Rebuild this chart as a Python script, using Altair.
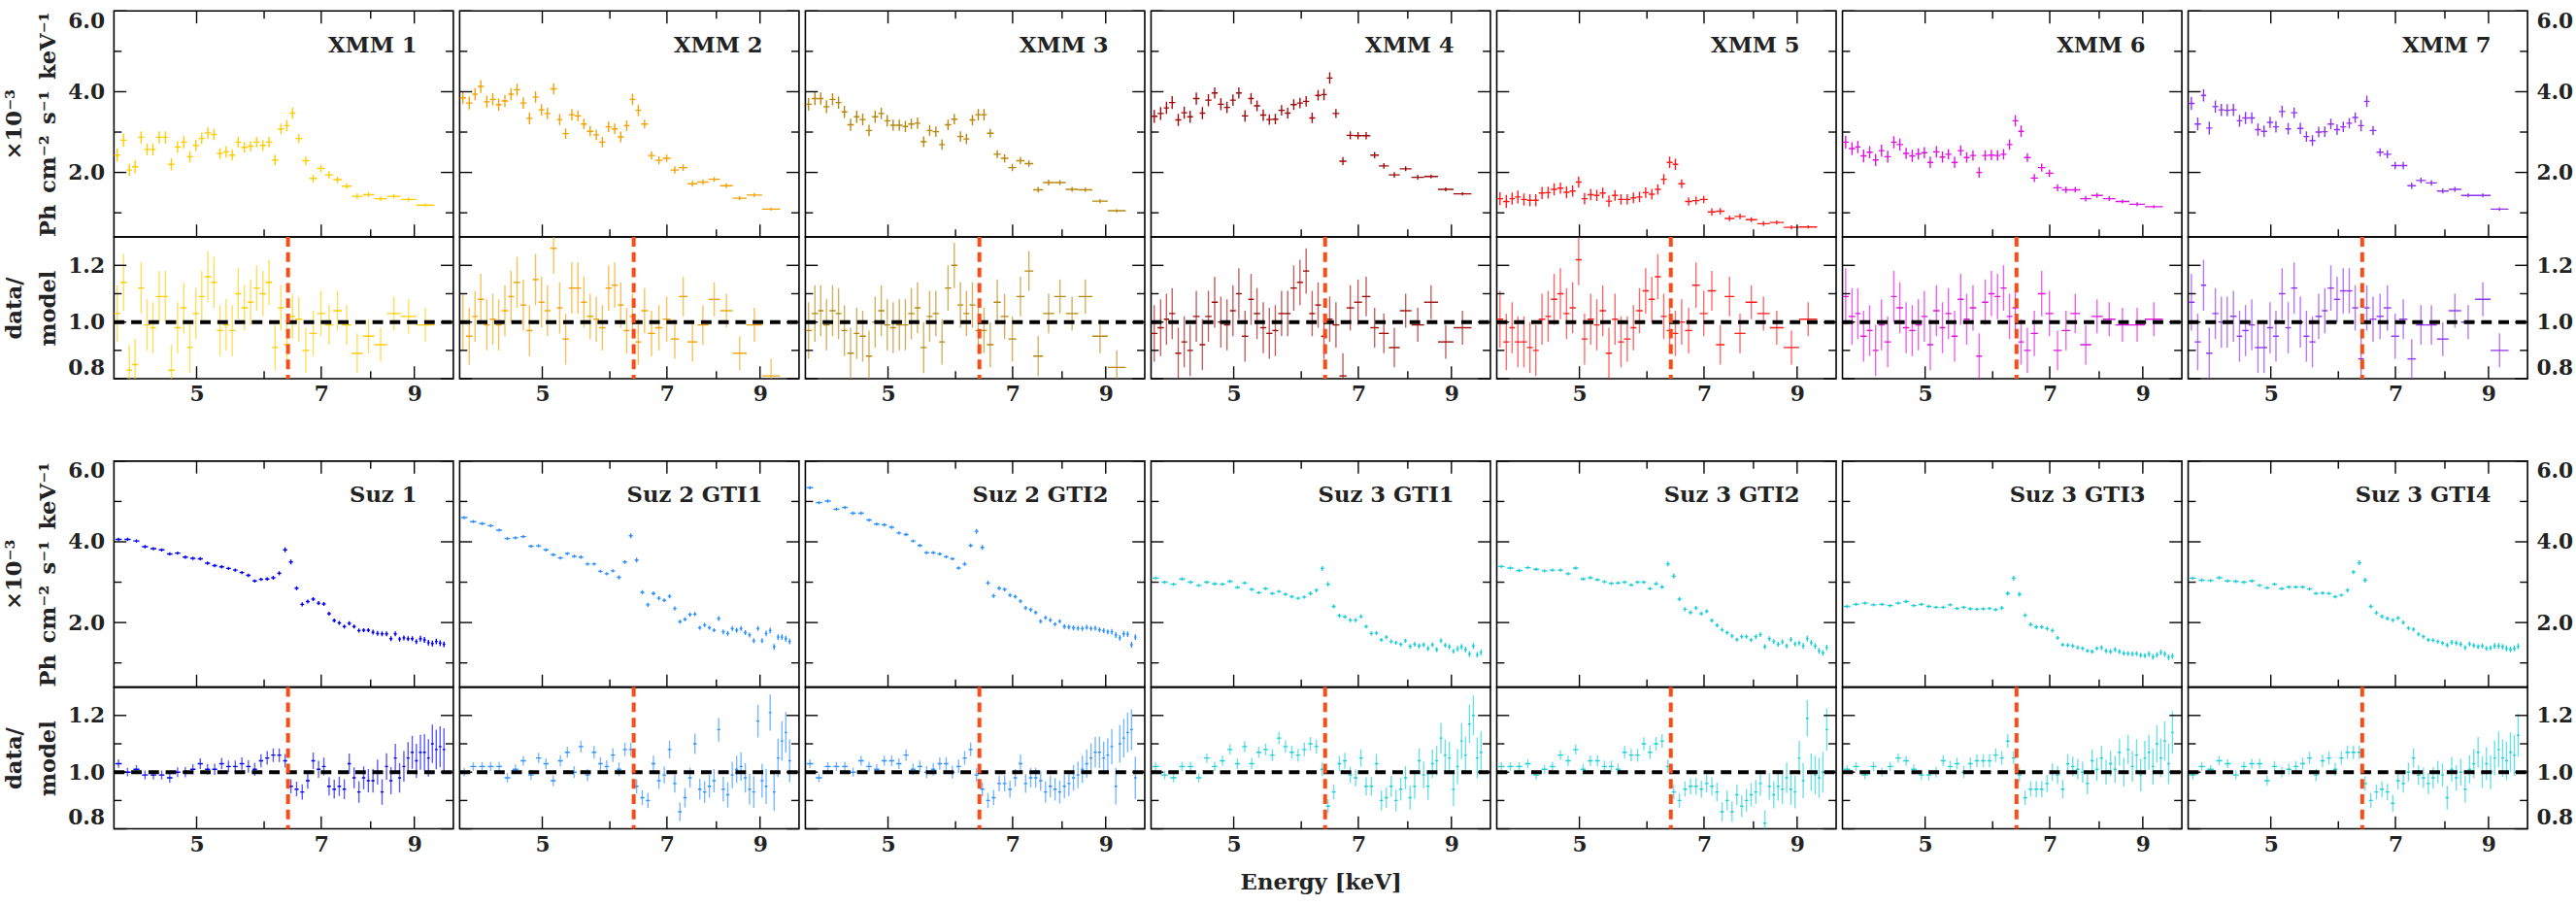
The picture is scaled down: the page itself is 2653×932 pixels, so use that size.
import altair as alt
import pandas as pd

FONT = "DejaVu Serif"
TXT = "#222222"

# ---------------- energy grids ----------------
xmm_lo = [4.00, 4.07, 4.14, 4.20, 4.27, 4.34, 4.41, 4.48, 4.56, 4.63, 4.71, 4.79, 4.87, 4.95,
          5.03, 5.11, 5.20, 5.28, 5.37, 5.46, 5.55, 5.64, 5.74, 5.83, 5.93, 6.03, 6.13, 6.23,
          6.33, 6.43, 6.53, 6.65, 6.78, 6.92, 7.07, 7.23, 7.40, 7.60, 7.83, 8.08, 8.36, 8.68, 9.05]
xmm_last_edge = 9.50
xmm_ferr = [0.16, 0.16, 0.15, 0.16, 0.15, 0.15, 0.15, 0.15, 0.15, 0.15, 0.14, 0.15, 0.14, 0.14,
            0.14, 0.14, 0.14, 0.13, 0.14, 0.13, 0.13, 0.13, 0.13, 0.13, 0.13, 0.13, 0.13, 0.13,
            0.14, 0.14, 0.11, 0.10, 0.10, 0.09, 0.09, 0.08, 0.07, 0.07, 0.06, 0.06, 0.05, 0.05, 0.04]
xmm_rerr = [0.10, 0.10, 0.09, 0.09, 0.09, 0.09, 0.09, 0.09, 0.09, 0.09, 0.09, 0.09, 0.09, 0.09,
            0.09, 0.09, 0.09, 0.09, 0.09, 0.09, 0.09, 0.08, 0.08, 0.08, 0.08, 0.08, 0.08, 0.08,
            0.08, 0.08, 0.08, 0.08, 0.08, 0.08, 0.07, 0.07, 0.07, 0.07, 0.06, 0.06, 0.06, 0.06, 0.06]

suz_e = [4.05, 4.15, 4.25, 4.35, 4.45, 4.55, 4.65, 4.75, 4.85, 4.95, 5.05, 5.15, 5.25, 5.35,
         5.45, 5.55, 5.65, 5.75, 5.85, 5.95, 6.05, 6.15, 6.25, 6.35, 6.45, 6.55, 6.65, 6.75,
         6.85, 6.95, 7.05, 7.15, 7.25, 7.35, 7.45, 7.55, 7.65, 7.75, 7.85, 7.95, 8.05, 8.15,
         8.25, 8.35, 8.45, 8.55, 8.65, 8.75, 8.85, 8.95, 9.05, 9.15, 9.25, 9.35, 9.45, 9.55,
         9.65, 9.75]
suz_halfwidth = 0.035
suz_ferr = [0.04, 0.04, 0.04, 0.04, 0.04, 0.04, 0.04, 0.04, 0.04, 0.04, 0.04, 0.04, 0.04, 0.04,
            0.04, 0.04, 0.04, 0.04, 0.04, 0.04, 0.04, 0.05, 0.05, 0.06, 0.06, 0.05, 0.05, 0.05,
            0.05, 0.05, 0.05, 0.05, 0.05, 0.05, 0.05, 0.05, 0.05, 0.05, 0.05, 0.05, 0.06, 0.06,
            0.06, 0.06, 0.06, 0.06, 0.06, 0.06, 0.06, 0.06, 0.06, 0.07, 0.07, 0.07, 0.07, 0.07,
            0.07, 0.07]
suz_rerr = [0.015, 0.015, 0.015, 0.016, 0.016, 0.016, 0.017, 0.017, 0.018, 0.018, 0.019, 0.019,
            0.020, 0.020, 0.021, 0.021, 0.022, 0.022, 0.023, 0.023, 0.024, 0.024, 0.024, 0.024,
            0.025, 0.026, 0.027, 0.028, 0.029, 0.030, 0.031, 0.032, 0.033, 0.034, 0.035, 0.036,
            0.037, 0.038, 0.040, 0.041, 0.042, 0.044, 0.045, 0.047, 0.048, 0.050, 0.052, 0.054,
            0.056, 0.058, 0.060, 0.062, 0.064, 0.066, 0.068, 0.070, 0.072, 0.075]

# ---------------- XMM spectra (1e-3 ph/cm2/s/keV) and data/model ----------------
xmm1_flux = [2.43, 2.80, 2.06, 2.14, 2.87, 2.57, 2.57, 2.87, 2.87, 2.20, 2.63, 2.75, 2.39, 2.67, 2.84,
             2.98, 2.94, 2.47, 2.51, 2.43, 2.75, 2.62, 2.65, 2.75, 2.67, 2.75, 2.31, 3.08, 3.16, 3.47,
             2.84, 2.29, 1.85, 2.10, 1.94, 1.82, 1.66, 1.41, 1.45, 1.35, 1.41, 1.33, 1.19]
xmm1_ratio = [1.03, 1.14, 0.83, 0.85, 1.12, 0.99, 0.98, 1.09, 1.09, 0.83, 0.98, 1.05, 0.91, 1.03, 1.09,
              1.16, 1.14, 0.97, 0.99, 0.97, 1.10, 1.05, 1.07, 1.12, 1.10, 1.14, 0.91, 1.05, 0.92, 1.02,
              1.01, 0.90, 0.96, 1.03, 0.99, 1.04, 0.99, 0.89, 0.95, 0.92, 1.03, 1.02, 0.99]
xmm2_flux = [3.85, 3.72, 3.94, 4.13, 3.75, 3.81, 3.68, 3.77, 3.94, 4.05, 3.72, 3.34, 3.87, 3.55, 3.46,
             4.07, 3.31, 2.96, 3.43, 3.40, 3.20, 3.02, 2.93, 2.75, 3.13, 3.08, 2.88, 3.16, 3.81, 3.54,
             3.20, 2.42, 2.30, 2.35, 2.06, 2.12, 1.72, 1.76, 1.83, 1.67, 1.36, 1.44, 1.09]
xmm2_ratio = [1.00, 0.95, 1.02, 1.08, 0.99, 1.01, 0.99, 1.04, 1.09, 1.14, 1.06, 0.97, 1.15, 1.07, 1.04,
              1.26, 1.05, 0.94, 1.12, 1.12, 1.07, 1.02, 1.01, 0.98, 1.12, 1.13, 1.06, 0.97, 1.02, 0.93,
              1.04, 0.96, 0.98, 1.01, 0.94, 1.09, 0.93, 0.99, 1.08, 1.04, 0.89, 0.99, 0.81]
xmm3_flux = [3.69, 3.83, 3.83, 3.63, 3.81, 3.73, 3.50, 3.18, 3.38, 3.31, 3.04, 3.38, 3.46, 3.28, 3.17,
             3.17, 3.14, 3.20, 3.22, 2.76, 3.04, 3.01, 2.69, 3.18, 3.32, 2.89, 2.83, 3.30, 3.43, 3.43,
             2.97, 2.45, 2.35, 2.12, 2.29, 2.22, 1.57, 1.75, 1.75, 1.58, 1.57, 1.29, 1.05]
xmm3_ratio = [0.97, 1.03, 1.04, 0.99, 1.04, 1.03, 0.97, 0.89, 0.96, 0.95, 0.88, 1.00, 1.04, 0.99, 0.98,
              0.99, 0.99, 1.03, 1.05, 0.91, 1.02, 1.03, 0.93, 1.12, 1.20, 1.06, 1.03, 1.06, 0.97, 0.97,
              0.92, 1.07, 1.02, 0.94, 1.09, 1.18, 0.88, 1.03, 1.09, 1.03, 1.09, 0.95, 0.84]
xmm4_flux = [3.39, 3.46, 3.60, 3.73, 3.30, 3.48, 3.38, 3.83, 3.47, 3.79, 3.97, 3.69, 3.61, 3.79, 3.97,
             3.40, 3.83, 3.65, 3.42, 3.31, 3.32, 3.54, 3.47, 3.68, 3.72, 3.76, 3.35, 3.91, 3.93, 4.34,
             3.46, 2.28, 2.92, 2.91, 2.91, 2.43, 2.16, 1.94, 2.09, 1.88, 1.90, 1.58, 1.47]
xmm4_ratio = [0.96, 0.98, 1.01, 1.03, 0.89, 0.93, 0.90, 1.02, 0.92, 1.02, 1.07, 1.00, 0.99, 1.04, 1.10,
              0.95, 1.08, 1.03, 0.98, 0.96, 0.97, 1.03, 1.03, 1.12, 1.14, 1.18, 1.03, 1.06, 0.95, 1.01,
              0.99, 0.81, 1.05, 1.07, 1.09, 0.98, 0.96, 0.91, 1.04, 0.99, 1.07, 0.93, 0.98]
xmm5_flux = [1.35, 1.28, 1.35, 1.39, 1.33, 1.31, 1.31, 1.49, 1.50, 1.58, 1.61, 1.51, 1.54, 1.76, 1.35,
             1.45, 1.43, 1.49, 1.29, 1.43, 1.33, 1.33, 1.37, 1.39, 1.50, 1.46, 1.58, 1.83, 2.25, 2.20,
             1.72, 1.28, 1.30, 1.33, 1.02, 1.04, 0.86, 0.91, 0.83, 0.73, 0.76, 0.64, 0.65]
xmm5_ratio = [1.01, 0.93, 0.98, 0.93, 0.93, 0.91, 0.90, 1.01, 1.02, 1.08, 1.10, 1.03, 1.05, 1.22, 0.94,
              1.01, 0.99, 1.04, 0.89, 1.01, 0.93, 0.94, 0.98, 1.04, 1.11, 1.08, 1.16, 1.02, 0.97, 0.96,
              1.00, 0.97, 1.13, 1.03, 1.11, 0.92, 1.09, 0.96, 1.07, 1.03, 0.98, 0.91, 1.01]
xmm6_flux = [2.75, 2.59, 2.63, 2.41, 2.50, 2.31, 2.54, 2.39, 2.75, 2.69, 2.47, 2.41, 2.46, 2.49, 2.25,
             2.51, 2.38, 2.45, 2.25, 2.54, 2.37, 2.42, 2.00, 2.42, 2.43, 2.42, 2.45, 2.69, 3.28, 3.02,
             2.37, 1.86, 2.12, 1.98, 1.62, 1.57, 1.57, 1.35, 1.43, 1.35, 1.28, 1.21, 1.15]
xmm6_ratio = [1.09, 1.02, 1.03, 0.95, 0.97, 0.90, 0.99, 0.93, 1.09, 1.05, 0.98, 0.97, 0.99, 1.02, 0.92,
              1.04, 0.98, 1.03, 0.95, 1.08, 1.01, 1.05, 0.88, 1.07, 1.10, 1.09, 1.12, 1.02, 1.05, 0.93,
              0.90, 0.96, 1.10, 1.03, 0.90, 0.97, 1.03, 0.92, 1.02, 1.01, 0.99, 0.99, 1.01]
xmm7_flux = [3.71, 3.20, 3.91, 3.10, 3.63, 3.55, 3.54, 3.55, 3.28, 3.35, 3.35, 3.06, 3.02, 3.24, 3.13,
             3.51, 3.08, 3.48, 3.09, 2.89, 2.79, 3.00, 3.01, 3.20, 3.06, 3.13, 3.22, 3.36, 3.16, 3.76,
             3.04, 2.50, 2.45, 2.17, 2.17, 1.67, 1.80, 1.74, 1.54, 1.58, 1.43, 1.43, 1.09]
xmm7_ratio = [1.07, 0.93, 1.13, 0.89, 1.03, 1.00, 1.00, 1.02, 0.95, 0.97, 0.99, 0.91, 0.91, 0.98, 0.95,
              1.10, 0.98, 1.12, 1.00, 0.95, 0.93, 1.02, 1.04, 1.12, 1.08, 1.11, 1.11, 1.05, 0.87, 1.05,
              1.01, 1.02, 1.05, 0.95, 1.01, 0.87, 0.99, 0.99, 0.94, 1.04, 1.00, 1.08, 0.90]

# ---------------- Suzaku spectra and data/model ----------------
suz1_flux = [4.06, 4.06, 4.02, 3.88, 3.83, 3.80, 3.70, 3.72, 3.62, 3.59, 3.58, 3.47, 3.41, 3.38, 3.34,
             3.30, 3.24, 3.17, 3.03, 3.07, 3.08, 3.11, 3.22, 3.80, 3.50, 2.85, 2.45, 2.52, 2.58, 2.48,
             2.46, 2.22, 2.05, 1.99, 1.90, 1.98, 1.90, 1.80, 1.81, 1.81, 1.76, 1.73, 1.72, 1.72, 1.60,
             1.72, 1.59, 1.62, 1.60, 1.60, 1.53, 1.60, 1.57, 1.50, 1.48, 1.53, 1.49, 1.46]
suz1_ratio = [1.03, 1.00, 1.01, 0.99, 0.99, 0.99, 0.98, 1.00, 1.00, 1.01, 1.03, 1.01, 1.01, 1.03, 1.02,
              1.02, 1.03, 1.02, 1.01, 1.04, 1.05, 1.06, 1.06, 1.04, 0.95, 0.94, 0.93, 0.97, 1.04, 1.01,
              1.02, 0.95, 0.94, 0.95, 0.94, 1.03, 0.98, 0.93, 0.98, 0.97, 0.97, 1.00, 0.93, 1.02, 0.97,
              1.05, 0.98, 1.02, 1.05, 1.07, 1.04, 1.07, 1.07, 1.05, 1.10, 1.08, 1.09, 1.08]
suz2a_flux = [4.60, 4.50, 4.45, 4.40, 4.29, 4.08, 4.10, 4.13, 3.89, 3.90, 3.80, 3.68, 3.60, 3.71, 3.64,
              3.62, 3.45, 3.45, 3.27, 3.21, 3.28, 3.12, 3.50, 4.15, 3.55, 2.75, 2.44, 2.72, 2.60, 2.55,
              2.65, 2.35, 2.02, 2.08, 2.20, 2.21, 1.87, 1.94, 1.87, 1.81, 2.10, 1.77, 1.73, 1.85, 1.81,
              1.85, 1.75, 1.69, 1.55, 1.85, 1.55, 1.73, 1.80, 1.40, 1.64, 1.64, 1.60, 1.53]
suz2a_ratio = [1.00, 1.02, 1.02, 1.02, 1.02, 0.98, 1.01, 1.04, 0.99, 1.05, 1.03, 0.97, 1.04, 1.07, 1.00,
               1.09, 0.99, 1.07, 1.03, 1.02, 1.06, 1.01, 1.08, 1.08, 0.95, 0.91, 0.90, 1.03, 0.97, 0.99,
               1.08, 0.96, 0.86, 0.91, 0.98, 1.10, 0.94, 0.93, 0.95, 0.97, 1.15, 0.94, 0.92, 0.99, 1.01,
               1.02, 0.98, 0.94, 0.93, 1.18, 0.97, 0.95, 1.21, 0.93, 1.05, 1.11, 1.14, 1.04]
suz2b_flux = [5.34, 4.97, 5.01, 4.81, 4.85, 4.71, 4.71, 4.54, 4.44, 4.42, 4.36, 4.22, 4.18, 4.02, 3.91,
              3.73, 3.73, 3.70, 3.63, 3.58, 3.35, 3.45, 3.91, 4.26, 3.86, 2.98, 2.66, 2.85, 2.82, 2.68,
              2.64, 2.53, 2.36, 2.32, 2.25, 2.03, 2.12, 2.06, 1.96, 2.03, 1.90, 1.89, 1.87, 1.86, 1.85,
              1.88, 1.85, 1.86, 1.82, 1.80, 1.77, 1.77, 1.69, 1.62, 1.72, 1.71, 1.45, 1.64]
suz2b_ratio = [1.03, 0.98, 1.02, 1.02, 1.02, 1.00, 1.04, 1.02, 1.01, 1.04, 1.04, 1.03, 1.06, 1.01, 1.02,
               1.00, 1.01, 1.03, 1.03, 1.00, 1.02, 1.05, 1.08, 0.99, 0.94, 0.90, 0.91, 0.96, 0.96, 0.94,
               0.98, 1.03, 0.96, 0.98, 0.98, 0.97, 0.93, 0.95, 0.94, 0.93, 0.95, 0.96, 0.98, 0.99, 1.01,
               1.03, 1.05, 1.07, 1.07, 1.05, 1.06, 1.09, 0.95, 1.10, 1.12, 1.14, 1.15, 0.98]
suz3a_flux = [3.10, 3.00, 2.95, 3.08, 3.00, 2.92, 3.00, 2.96, 2.95, 3.02, 2.87, 2.98, 2.82, 2.74, 2.84,
              2.72, 2.77, 2.70, 2.64, 2.60, 2.63, 2.72, 2.80, 3.34, 2.95, 2.40, 2.17, 2.14, 2.06, 2.06,
              2.15, 1.90, 1.73, 1.74, 1.57, 1.64, 1.53, 1.50, 1.46, 1.55, 1.41, 1.46, 1.42, 1.45, 1.36,
              1.45, 1.33, 1.55, 1.44, 1.40, 1.29, 1.35, 1.40, 1.33, 1.22, 1.42, 1.20, 1.26]
suz3a_ratio = [1.02, 0.99, 0.98, 1.02, 1.02, 0.98, 1.05, 1.02, 1.04, 1.08, 1.03, 1.09, 1.03, 1.07, 1.08,
               1.06, 1.12, 1.09, 1.07, 1.06, 1.08, 1.10, 1.09, 1.01, 0.88, 0.93, 1.03, 1.04, 0.99, 0.98,
               1.05, 0.95, 0.95, 1.03, 0.90, 0.91, 0.95, 0.90, 0.94, 0.98, 0.91, 0.95, 1.04, 0.99, 0.95,
               1.03, 1.04, 1.12, 1.06, 1.05, 0.94, 1.02, 1.11, 1.06, 1.17, 1.20, 1.05, 1.07]
suz3b_flux = [3.39, 3.35, 3.29, 3.36, 3.32, 3.28, 3.30, 3.30, 3.21, 3.35, 3.08, 3.11, 3.06, 3.01, 2.97,
              2.98, 3.00, 2.93, 3.00, 3.00, 2.84, 2.96, 2.88, 3.45, 3.15, 2.58, 2.33, 2.25, 2.36, 2.22,
              2.28, 2.05, 1.93, 1.82, 1.75, 1.67, 1.58, 1.65, 1.65, 1.57, 1.65, 1.70, 1.40, 1.60, 1.53,
              1.46, 1.52, 1.42, 1.58, 1.47, 1.49, 1.42, 1.60, 1.50, 1.42, 1.30, 1.25, 1.38]
suz3b_ratio = [1.02, 1.02, 1.02, 1.03, 0.99, 1.01, 1.02, 1.06, 1.04, 1.08, 1.01, 1.04, 1.04, 1.02, 1.02,
               1.01, 1.07, 1.06, 1.06, 1.10, 1.07, 1.10, 1.11, 1.02, 0.93, 0.90, 0.94, 0.95, 0.95, 0.94,
               0.96, 0.95, 0.93, 0.86, 0.90, 0.86, 0.92, 0.88, 0.90, 0.92, 0.93, 0.96, 0.82, 0.95, 0.92,
               0.95, 0.94, 0.98, 0.94, 0.93, 1.05, 0.97, 1.19, 1.00, 0.99, 0.98, 1.00, 1.15]
suz3c_flux = [2.40, 2.45, 2.48, 2.44, 2.45, 2.42, 2.48, 2.52, 2.42, 2.45, 2.40, 2.38, 2.38, 2.44, 2.35,
              2.38, 2.34, 2.33, 2.34, 2.35, 2.32, 2.36, 2.72, 3.10, 2.70, 2.18, 1.95, 1.89, 1.89, 1.85,
              1.80, 1.62, 1.45, 1.44, 1.42, 1.38, 1.36, 1.30, 1.28, 1.36, 1.38, 1.30, 1.28, 1.33, 1.28,
              1.24, 1.23, 1.22, 1.23, 1.19, 1.18, 1.22, 1.15, 1.20, 1.26, 1.22, 1.14, 1.17]
suz3c_ratio = [1.01, 1.02, 0.99, 1.02, 1.00, 1.02, 1.05, 1.04, 1.01, 0.99, 0.99, 1.00, 1.04, 1.02, 1.03,
               1.00, 1.03, 1.04, 1.04, 1.04, 1.06, 1.05, 1.11, 1.05, 0.99, 0.91, 0.94, 0.94, 0.94, 0.96,
               1.00, 0.99, 0.94, 1.03, 1.02, 1.01, 1.00, 0.96, 1.04, 1.01, 1.05, 1.00, 1.03, 1.01, 1.07,
               1.00, 1.08, 1.02, 1.06, 0.99, 1.05, 1.07, 1.02, 1.10, 1.05, 1.11, 1.03, 1.14]
suz3d_flux = [3.10, 3.05, 3.04, 3.11, 3.03, 3.02, 3.00, 3.03, 2.92, 2.86, 2.95, 2.84, 2.88, 2.88, 2.88,
              2.83, 2.72, 2.73, 2.72, 2.64, 2.68, 2.80, 3.25, 3.48, 3.05, 2.40, 2.24, 2.15, 2.10, 2.06,
              2.11, 2.00, 1.86, 1.83, 1.71, 1.65, 1.57, 1.56, 1.53, 1.49, 1.44, 1.51, 1.49, 1.46, 1.38,
              1.47, 1.43, 1.40, 1.42, 1.36, 1.37, 1.42, 1.42, 1.40, 1.36, 1.33, 1.36, 1.41]
suz3d_ratio = [0.99, 1.02, 1.01, 1.04, 1.03, 0.99, 1.02, 1.03, 1.03, 0.97, 1.02, 1.00, 1.01, 1.02, 1.03,
               1.05, 0.99, 1.04, 1.05, 1.01, 1.05, 1.07, 1.07, 1.07, 0.96, 0.90, 0.93, 0.94, 0.93, 0.89,
               0.97, 0.96, 1.00, 1.05, 0.99, 0.98, 0.96, 0.98, 1.00, 0.99, 0.91, 1.01, 0.98, 1.00, 0.94,
               1.01, 1.03, 1.07, 1.00, 1.03, 1.00, 1.05, 1.08, 1.05, 1.04, 1.07, 1.06, 1.13]

top_names = ["XMM 1", "XMM 2", "XMM 3", "XMM 4", "XMM 5", "XMM 6", "XMM 7"]
top_colors = ["#FFCC00", "#F5A000", "#B8860B", "#9E0A0A", "#FF1A1A", "#E010E0", "#9030F0"]
top_flux = [xmm1_flux, xmm2_flux, xmm3_flux, xmm4_flux, xmm5_flux, xmm6_flux, xmm7_flux]
top_ratio = [xmm1_ratio, xmm2_ratio, xmm3_ratio, xmm4_ratio, xmm5_ratio, xmm6_ratio, xmm7_ratio]

bot_names = ["Suz 1", "Suz 2 GTI1", "Suz 2 GTI2", "Suz 3 GTI1", "Suz 3 GTI2", "Suz 3 GTI3", "Suz 3 GTI4"]
bot_colors = ["#0000EE", "#2E90FF", "#2E90FF", "#1CCFD8", "#1CCFD8", "#1CCFD8", "#1CCFD8"]
bot_flux = [suz1_flux, suz2a_flux, suz2b_flux, suz3a_flux, suz3b_flux, suz3c_flux, suz3d_flux]
bot_ratio = [suz1_ratio, suz2a_ratio, suz2b_ratio, suz3a_ratio, suz3b_ratio, suz3c_ratio, suz3d_ratio]

fe_line = [6.4]
unity = [1.0]
x_major = [5, 7, 9]
x_minor = [6, 8]
ys_major = [2, 4, 6]
ys_minor = [1, 3, 5]
yr_major = [0.8, 1.0, 1.2]
yr_minor = [0.9, 1.1]

SPEC_TITLE = ["×10⁻³", "Ph\u2002cm⁻²\u2002s⁻¹\u2002keV⁻¹"]
RATIO_TITLE = ["data/", "model"]

# ---------------- layout ----------------
W = 354.4
HS = 236
HR = 148
TMAJ = 13
TMIN = 8

xs = alt.Scale(type="log", domain=[4, 10], nice=False)
ys_s = alt.Scale(domain=[0.4, 6.0], nice=False, zero=False)
ys_r = alt.Scale(domain=[0.8, 1.3], nice=False, zero=False)


def table(lo, hi, flux, ferr, ratio, rerr):
    rows = []
    for i in range(len(flux)):
        rows.append(dict(E=(lo[i] * hi[i]) ** 0.5, lo=lo[i], hi=hi[i], f=flux[i],
                         flo=flux[i] - ferr[i], fhi=flux[i] + ferr[i], r=ratio[i],
                         rlo=ratio[i] - rerr[i], rhi=ratio[i] + rerr[i]))
    return pd.DataFrame(rows)


xmm_hi = xmm_lo[1:] + [xmm_last_edge]
suz_lo = [e - suz_halfwidth for e in suz_e]
suz_hi = [e + suz_halfwidth for e in suz_e]


def enc(ch, field, scale, has_axis):
    """Secondary-layer encoding: leave the axis unspecified when the view shows one
    (so it merges with the primary layer's axis), otherwise switch it off."""
    cls = alt.X if ch == "x" else alt.Y
    if has_axis:
        return cls(field, scale=scale)
    return cls(field, scale=scale, axis=None)


def xticks(H, top, has_xaxis):
    out = []
    for vals, L in ((x_major, TMAJ), (x_minor, TMIN)):
        base = alt.Chart(pd.DataFrame({"t": vals})).mark_rule(color="black", strokeWidth=1.4)
        out.append(base.encode(x=enc("x", "t:Q", xs, has_xaxis), y=alt.value(H), y2=alt.value(H - L)))
        if top:
            out.append(base.encode(x=enc("x", "t:Q", xs, has_xaxis), y=alt.value(0), y2=alt.value(L)))
    return out


def yticks(scale, major, minor, has_yaxis):
    out = []
    for vals, L in ((major, TMAJ), (minor, TMIN)):
        base = alt.Chart(pd.DataFrame({"t": vals})).mark_rule(color="black", strokeWidth=1.4)
        out.append(base.encode(y=enc("y", "t:Q", scale, has_yaxis), x=alt.value(0), x2=alt.value(L)))
        out.append(base.encode(y=enc("y", "t:Q", scale, has_yaxis), x=alt.value(W), x2=alt.value(W - L)))
    return out


def y_axis(kind, col):
    if kind == "s":
        vals, title, tsize = ys_major, SPEC_TITLE, 23
    else:
        vals, title, tsize = yr_major, RATIO_TITLE, 23
    if col == 0:
        return alt.Axis(orient="left", values=vals, format=".1f", labelFlush=True,
                        labelPadding=10, title=title, titlePadding=8, titleLineHeight=36,
                        titleFontSize=tsize)
    if col == 6:
        return alt.Axis(orient="right", values=vals, format=".1f", labelFlush=True,
                        labelPadding=9, title=None)
    return None


def cell(df, color, name, col, xtitle):
    hy = col in (0, 6)
    # spectrum
    b = alt.Chart(df)
    sv = b.mark_rule(color=color, strokeWidth=1.4, clip=True).encode(
        x=alt.X("E:Q", scale=xs, axis=None),
        y=alt.Y("flo:Q", scale=ys_s, axis=y_axis("s", col)), y2="fhi:Q")
    sh = b.mark_rule(color=color, strokeWidth=1.4, clip=True).encode(
        x=alt.X("lo:Q", scale=xs, axis=None), x2="hi:Q",
        y=enc("y", "f:Q", ys_s, hy))
    lab = alt.Chart(pd.DataFrame({"t": [name]})).mark_text(
        font=FONT, fontSize=23, fontWeight="bold", color=TXT, align="right", baseline="middle").encode(
        text="t:N", x=alt.value(W - 38), y=alt.value(36))
    spec = alt.layer(sv, sh, *xticks(HS, True, False), *yticks(ys_s, ys_major, ys_minor, hy), lab).properties(
        width=W, height=HS)

    # ratio
    if xtitle:
        xax = alt.Axis(values=x_major, format="d", labelPadding=6, title="Energy [keV]", titlePadding=18,
                       titleFontSize=23)
    else:
        xax = alt.Axis(values=x_major, format="d", labelPadding=6, title=None)
    rv = b.mark_rule(color=color, strokeWidth=1.4, opacity=0.65, clip=True).encode(
        x=alt.X("E:Q", scale=xs, axis=xax),
        y=alt.Y("rlo:Q", scale=ys_r, axis=y_axis("r", col)), y2="rhi:Q")
    rh = b.mark_rule(color=color, strokeWidth=1.4, clip=True).encode(
        x=enc("x", "lo:Q", xs, True), x2="hi:Q",
        y=enc("y", "r:Q", ys_r, hy))
    one = alt.Chart(pd.DataFrame({"v": unity})).mark_rule(
        color="black", strokeWidth=4, strokeDash=[11, 7]).encode(
        y=enc("y", "v:Q", ys_r, hy), x=alt.value(0), x2=alt.value(W))
    fe = alt.Chart(pd.DataFrame({"v": fe_line})).mark_rule(
        color="#FF4A14", strokeWidth=4, strokeDash=[10, 6]).encode(
        x=enc("x", "v:Q", xs, True), y=alt.value(0), y2=alt.value(HR))
    ratio = alt.layer(rv, rh, one, fe, *xticks(HR, False, True),
                      *yticks(ys_r, yr_major, yr_minor, hy)).properties(width=W, height=HR)
    return alt.vconcat(spec, ratio, spacing=0, bounds="flush")


top_cells = []
for i in range(7):
    df = table(xmm_lo, xmm_hi, top_flux[i], xmm_ferr, top_ratio[i], xmm_rerr)
    top_cells.append(cell(df, top_colors[i], top_names[i], i, False))
bot_cells = []
for i in range(7):
    df = table(suz_lo, suz_hi, bot_flux[i], suz_ferr, bot_ratio[i], suz_rerr)
    bot_cells.append(cell(df, bot_colors[i], bot_names[i], i, i == 3))

row1 = alt.hconcat(*top_cells, spacing=0)
row2 = alt.hconcat(*bot_cells, spacing=0)

chart = alt.vconcat(row1, row2, spacing=56).properties(
    padding={"left": 2, "top": 3, "right": 2, "bottom": 2}, background="white"
).configure_view(
    stroke="black", strokeWidth=1.6
).configure_axis(
    grid=False, ticks=False, domain=False,
    labelFont=FONT, labelFontSize=22, labelFontWeight="bold", labelColor=TXT,
    titleFont=FONT, titleFontSize=22, titleFontWeight="bold", titleColor=TXT,
    titleLineHeight=36
)

chart.save("out.html", embed_options={"renderer": "svg", "actions": False})
